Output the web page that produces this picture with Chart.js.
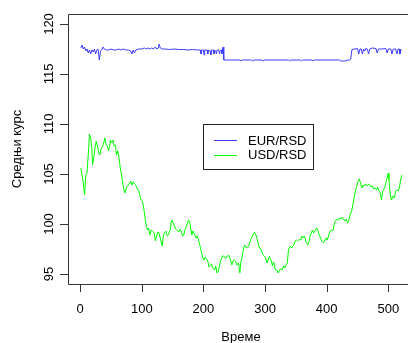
<!DOCTYPE html>
<html>
<head>
<meta charset="utf-8">
<script src="https://cdn.jsdelivr.net/npm/chart.js@4"></script>
<style>
  html, body { margin: 0; padding: 0; background: #fff; overflow: hidden; }
</style>
</head>
<body>
<canvas id="chart-rates" width="408" height="343"></canvas>
<script>
// Средњи курс EUR/RSD и USD/RSD по данима
const eurDays = [1, 3, 5, 7, 9, 11, 13, 15, 17, 19, 21, 23, 25, 27, 29, 31, 33, 35, 37, 39,
  42, 46, 50, 54, 58, 62, 66, 70, 74, 78, 82, 84, 86, 88, 90, 95, 100, 104, 106, 110,
  113, 116, 119, 122, 124, 127, 128, 130, 133, 138, 145, 152, 160, 168, 175, 182, 190, 195, 196, 197,
  200, 201, 202, 206, 207, 208, 211, 212, 213, 216, 217, 218, 220, 221, 222, 225, 226, 227, 229, 230,
  231, 232, 233, 259, 261, 263, 278, 280, 282, 295, 297, 299, 338, 340, 342, 357, 359, 361, 376, 378,
  380, 421, 423, 430, 434, 437, 439, 441, 450, 452, 454, 456, 458, 460, 462, 464, 466, 468, 470, 474,
  480, 482, 484, 490, 496, 498, 500, 504, 506, 508, 512, 514, 516, 518, 519, 520, 522];
const eurRate = [117.6, 117.9, 117.5, 117.7, 117.3, 117.5, 117.1, 117.4, 117.0, 117.4, 117.2, 117.5, 117.0, 117.4, 117.5, 116.4, 117.3, 117.4, 117.7, 117.5,
  117.4, 117.4, 117.5, 117.4, 117.4, 117.5, 117.4, 117.5, 117.4, 117.4, 117.3, 117.0, 117.4, 117.1, 117.4, 117.5, 117.5, 117.6, 117.5, 117.6,
  117.5, 117.6, 117.5, 117.7, 117.5, 117.6, 118.0, 117.6, 117.5, 117.5, 117.45, 117.5, 117.45, 117.45, 117.4, 117.45, 117.4, 117.4, 117.0, 117.4,
  117.4, 116.9, 117.4, 117.4, 117.0, 117.4, 117.3, 116.9, 117.4, 117.4, 117.0, 117.4, 117.3, 117.0, 117.4, 117.4, 117.0, 117.35, 117.4, 117.0,
  117.5, 117.7, 116.4, 116.4, 116.3, 116.4, 116.4, 116.3, 116.4, 116.4, 116.3, 116.4, 116.4, 116.3, 116.4, 116.4, 116.3, 116.4, 116.4, 116.3,
  116.4, 116.4, 116.3, 116.3, 116.4, 116.4, 116.5, 117.45, 117.55, 117.0, 117.5, 117.5, 117.0, 117.5, 117.3, 117.6, 117.5, 117.0, 117.5, 117.6,
  117.55, 117.1, 117.5, 117.5, 117.55, 117.1, 117.5, 117.5, 117.0, 117.5, 117.5, 117.0, 117.5, 117.5, 117.0, 117.4, 117.4];

const usdDays = [1, 3, 5, 7, 9, 11, 14, 15, 17, 19, 20, 22, 24, 26, 28, 30, 32, 34, 36, 38,
  40, 42, 44, 46, 48, 49, 51, 53, 55, 57, 59, 61, 63, 65, 67, 69, 71, 73, 75, 77,
  80, 82, 84, 86, 88, 90, 92, 95, 97, 99, 101, 104, 106, 109, 111, 113, 115, 117, 120, 122,
  124, 126, 128, 130, 133, 135, 137, 139, 141, 143, 146, 148, 149, 151, 153, 155, 157, 160, 162, 164,
  166, 168, 170, 173, 175, 176, 178, 180, 181, 183, 186, 188, 190, 192, 194, 196, 199, 201, 203, 205,
  207, 209, 211, 213, 215, 218, 220, 222, 224, 226, 228, 231, 233, 235, 237, 239, 241, 244, 246, 248,
  250, 252, 254, 257, 259, 261, 263, 265, 267, 270, 272, 274, 276, 278, 280, 283, 284, 286, 288, 290,
  292, 294, 297, 299, 301, 303, 305, 307, 310, 312, 314, 317, 319, 321, 323, 325, 328, 330, 332, 334,
  336, 338, 341, 343, 345, 347, 349, 351, 353, 356, 358, 360, 362, 364, 366, 369, 371, 373, 375, 377,
  379, 382, 384, 386, 388, 390, 392, 395, 397, 399, 401, 403, 405, 408, 410, 412, 414, 417, 419, 421,
  423, 425, 428, 430, 432, 434, 436, 438, 441, 443, 445, 447, 449, 451, 453, 455, 457, 459, 461, 463,
  466, 468, 470, 472, 474, 476, 479, 481, 483, 485, 487, 489, 491, 494, 496, 498, 500, 501, 503, 505,
  508, 510, 512, 514, 516, 518, 520, 522];
const usdRate = [105.6, 104.9, 104.1, 102.9, 104.9, 105.1, 107.9, 109.0, 108.6, 107.4, 105.9, 106.6, 107.6, 108.3, 107.8, 107.1, 106.9, 107.6, 107.7, 108.1,
  108.6, 107.9, 107.8, 107.3, 107.9, 108.4, 108.1, 108.4, 107.8, 107.9, 106.9, 107.3, 106.6, 105.6, 104.9, 104.1, 103.4, 103.1, 103.6, 103.8,
  104.1, 104.3, 103.9, 104.2, 104.0, 103.9, 103.6, 103.3, 102.8, 102.4, 102.3, 101.2, 100.2, 99.4, 99.6, 98.9, 99.4, 99.3, 99.1, 98.3,
  98.8, 99.2, 99.1, 98.6, 97.8, 98.9, 99.1, 99.3, 98.8, 98.9, 99.4, 100.3, 100.4, 100.1, 99.8, 99.5, 99.4, 99.2, 99.5, 99.3,
  98.8, 98.9, 99.4, 99.9, 100.3, 100.4, 100.1, 99.3, 98.9, 99.3, 98.9, 98.6, 98.8, 98.4, 97.9, 97.4, 96.6, 96.4, 96.7, 96.5,
  96.3, 95.7, 95.9, 96.0, 95.6, 95.4, 95.8, 95.1, 95.3, 95.8, 96.4, 96.8, 96.8, 96.6, 96.6, 96.8, 96.9, 96.4, 95.9, 96.3,
  96.4, 96.3, 95.9, 96.1, 95.1, 96.3, 96.8, 97.6, 97.9, 97.6, 97.7, 97.9, 98.3, 98.6, 98.9, 99.2, 99.0, 98.8, 98.3, 97.7,
  97.6, 97.3, 96.9, 96.8, 96.6, 96.1, 96.4, 96.8, 96.3, 95.8, 96.2, 95.4, 95.4, 95.1, 95.3, 95.5, 95.4, 95.8, 95.6, 95.9,
  96.1, 97.4, 97.8, 97.6, 97.8, 97.9, 98.3, 98.4, 98.3, 98.5, 98.4, 98.8, 98.6, 98.8, 98.3, 97.9, 98.1, 98.8, 99.1, 99.4,
  99.1, 99.4, 99.6, 99.3, 98.9, 98.6, 98.3, 98.1, 98.4, 98.6, 98.4, 98.8, 99.2, 99.4, 99.3, 99.9, 100.3, 100.5, 100.4, 100.6,
  100.5, 100.7, 100.4, 100.3, 100.5, 100.1, 100.4, 100.9, 101.4, 102.1, 102.8, 103.4, 103.8, 104.3, 104.5, 104.1, 103.6, 103.9, 103.8, 104.0,
  103.8, 104.0, 103.9, 103.7, 103.8, 103.5, 103.6, 103.4, 103.7, 103.3, 103.1, 102.4, 103.3, 103.6, 104.1, 104.6, 105.1, 104.5, 103.1, 102.4,
  102.8, 102.6, 103.3, 103.4, 103.3, 103.6, 104.4, 104.9];

const xTicks = [0, 100, 200, 300, 400, 500];
const yTicks = [95, 100, 105, 110, 115, 120];
const xTitle = "Време";
const yTitle = "Средњи курс";

const FONT = '13px "Liberation Sans", Arial, sans-serif';

function points(days, vals) {
  return days.map((d, i) => ({ x: d, y: vals[i] }));
}

// box, axes, titles and legend in the base-graphics style
const frame = {
  id: "frame",
  afterDraw(chart) {
    const { ctx, chartArea: a, scales: { x, y } } = chart;
    ctx.save();
    ctx.strokeStyle = "#333";
    ctx.lineWidth = 1;

    // plot box (right edge runs off the canvas)
    ctx.beginPath();
    ctx.moveTo(chart.width + 1, a.top + 0.5);
    ctx.lineTo(a.left + 0.5, a.top + 0.5);
    ctx.lineTo(a.left + 0.5, a.bottom + 0.5);
    ctx.lineTo(chart.width + 1, a.bottom + 0.5);
    ctx.stroke();

    ctx.fillStyle = "#000";
    ctx.font = FONT;

    // x axis ticks + labels
    ctx.beginPath();
    xTicks.forEach((v) => {
      const px = Math.round(x.getPixelForValue(v)) + 0.5;
      ctx.moveTo(px, a.bottom);
      ctx.lineTo(px, a.bottom + 8);
    });
    ctx.stroke();
    ctx.textAlign = "center";
    ctx.textBaseline = "alphabetic";
    xTicks.forEach((v) => {
      ctx.fillText(String(v), x.getPixelForValue(v), a.bottom + 28.5);
    });

    // y axis ticks + rotated labels
    ctx.beginPath();
    yTicks.forEach((v) => {
      const py = Math.round(y.getPixelForValue(v)) + 0.5;
      ctx.moveTo(a.left - 8, py);
      ctx.lineTo(a.left, py);
    });
    ctx.stroke();
    yTicks.forEach((v) => {
      ctx.save();
      ctx.translate(a.left - 15, y.getPixelForValue(v));
      ctx.rotate(-Math.PI / 2);
      ctx.fillText(String(v), 0, 0);
      ctx.restore();
    });

    // axis titles
    ctx.fillText(xTitle, 241, 341);
    ctx.save();
    ctx.translate(21, (a.top + a.bottom) / 2);
    ctx.rotate(-Math.PI / 2);
    ctx.fillText(yTitle, 0, 0);
    ctx.restore();

    // legend
    const lx = 203, ly = 124, lw = 110, lh = 45;
    ctx.strokeStyle = "#222";
    ctx.strokeRect(lx + 0.5, ly + 0.5, lw, lh);
    ctx.textAlign = "left";
    chart.data.datasets.forEach((ds, i) => {
      const rowY = ly + 16 + i * 14.5;
      ctx.strokeStyle = ds.borderColor;
      ctx.beginPath();
      ctx.moveTo(lx + 11, Math.round(rowY) + 0.5);
      ctx.lineTo(lx + 34, Math.round(rowY) + 0.5);
      ctx.stroke();
      ctx.fillText(ds.label, lx + 45, rowY + 4.5);
    });

    ctx.restore();
  },
};

new Chart(document.getElementById("chart-rates"), {
  type: "line",
  data: {
    datasets: [
      {
        label: "EUR/RSD",
        data: points(eurDays, eurRate),
        borderColor: "#3c3cff",
        borderWidth: 1,
        pointRadius: 0,
        tension: 0,
      },
      {
        label: "USD/RSD",
        data: points(usdDays, usdRate),
        borderColor: "#00ff00",
        borderWidth: 1,
        pointRadius: 0,
        tension: 0,
      },
    ],
  },
  options: {
    responsive: false,
    animation: false,
    events: [],
    layout: { padding: { left: 68, top: 14, right: 0, bottom: 59 } },
    scales: {
      x: { type: "linear", min: -19.84, max: 532, display: false },
      y: { min: 94, max: 121, display: false },
    },
    plugins: { legend: { display: false }, tooltip: { enabled: false } },
  },
  plugins: [frame],
});
</script>
</body>
</html>
